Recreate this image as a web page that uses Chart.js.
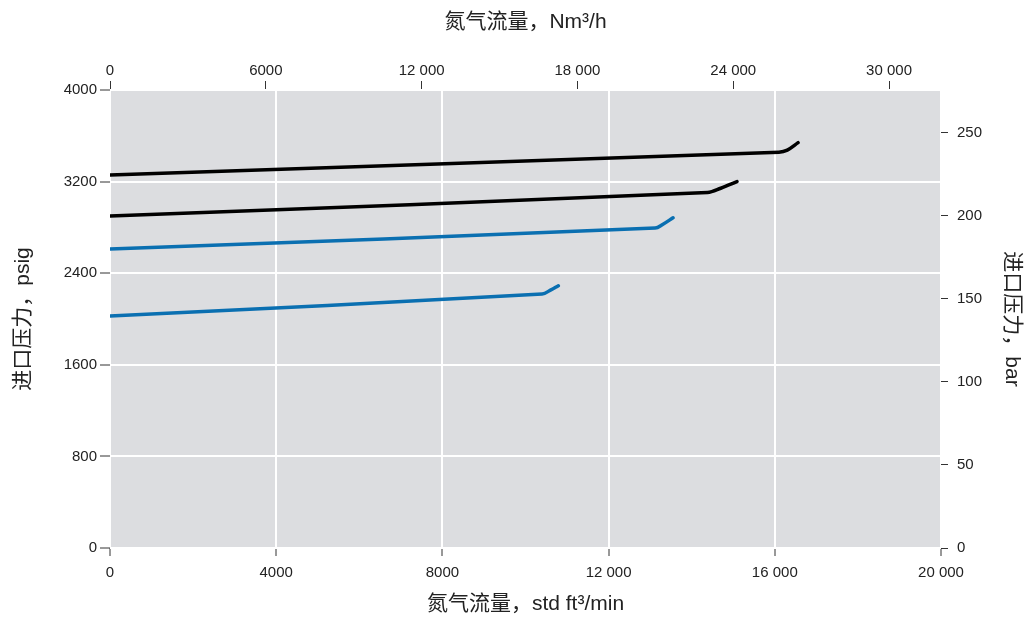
<!DOCTYPE html>
<html lang="zh">
<head>
    <meta charset="UTF-8">
    <title>进口压力 vs 氮气流量</title>
    <script src="https://cdn.jsdelivr.net/npm/chart.js"></script>
    <style>
        body { margin: 0; background: #fff; }
    </style>
</head>
<body>
    <canvas id="flowChart" width="1035" height="617"></canvas>

    <script>
        // flow in std ft3/min, pressure in psig
        const flowBlack1 = [0, 16100, 16300, 16560];
        const pressBlack1 = [3258, 3457, 3475, 3540];
        const flowBlack2 = [0, 14380, 14700, 15090];
        const pressBlack2 = [2900, 3105, 3142, 3200];
        const flowBlue1 = [0, 13120, 13300, 13550];
        const pressBlue1 = [2611, 2794, 2826, 2884];
        const flowBlue2 = [0, 10400, 10600, 10790];
        const pressBlue2 = [2026, 2218, 2252, 2290];

        const flowTicks = [0, 4000, 8000, 12000, 16000, 20000];
        const nm3Ticks = [0, 6000, 12000, 18000, 24000, 30000];
        const psigTicks = [0, 800, 1600, 2400, 3200, 4000];
        const barTicks = [0, 50, 100, 150, 200, 250];

        const nm3Max = 32000;      // 20000 scfm ~ 32000 Nm3/h
        const barMax = 275.8;      // 4000 psig ~ 275.8 bar

        const BLACK = '#000000';
        const BLUE = '#0a6fb1';
        const tickFont = { family: '"Liberation Sans", Arial, sans-serif', size: 15 };
        const titleFont = { family: '"Liberation Sans", "Noto Sans CJK SC", sans-serif', size: 21 };

        function fmt(v) {
            const s = String(v);
            return v >= 10000 ? s.slice(0, s.length - 3) + ' ' + s.slice(-3) : s;
        }

        function pts(xs, ys) {
            return xs.map((x, i) => ({ x: x, y: ys[i] }));
        }

        function series(xs, ys, color) {
            return {
                data: pts(xs, ys),
                borderColor: color,
                borderWidth: 3.5,
                borderCapStyle: 'round',
                borderJoinStyle: 'round',
                tension: 0.35,
                pointRadius: 0,
                fill: false
            };
        }

        const plotBg = {
            id: 'plotBg',
            beforeDraw(chart) {
                const a = chart.chartArea;
                const ctx = chart.ctx;
                ctx.save();
                ctx.fillStyle = '#dcdde0';
                ctx.fillRect(a.left, a.top, a.right - a.left, a.bottom - a.top);
                ctx.restore();
            }
        };

        new Chart(document.getElementById('flowChart').getContext('2d'), {
            type: 'line',
            data: {
                datasets: [
                    series(flowBlack1, pressBlack1, BLACK),
                    series(flowBlack2, pressBlack2, BLACK),
                    series(flowBlue1, pressBlue1, BLUE),
                    series(flowBlue2, pressBlue2, BLUE)
                ]
            },
            options: {
                responsive: false,
                animation: false,
                layout: { padding: 0 },
                plugins: { legend: { display: false }, tooltip: { enabled: false } },
                scales: {
                    x: {
                        type: 'linear',
                        position: 'bottom',
                        min: 0, max: 20000,
                        afterFit: s => { s.height = 69; },
                        afterBuildTicks: s => { s.ticks = flowTicks.map(v => ({ value: v })); },
                        border: { display: false },
                        grid: { color: '#ffffff', lineWidth: 2, tickColor: '#333', tickWidth: 1, tickLength: 8 },
                        ticks: { font: tickFont, color: '#222', padding: 8, maxRotation: 0, callback: v => fmt(v) },
                        title: { display: true, text: '氮气流量，std ft³/min', font: titleFont, color: '#222', padding: { top: 0, bottom: 0 } }
                    },
                    x2: {
                        type: 'linear',
                        position: 'top',
                        display: true,
                        min: 0, max: nm3Max,
                        afterFit: s => { s.height = 90; },
                        afterBuildTicks: s => { s.ticks = nm3Ticks.map(v => ({ value: v })); },
                        border: { display: false },
                        grid: { drawOnChartArea: false, tickColor: '#333', tickWidth: 1, tickLength: 9 },
                        ticks: { font: tickFont, color: '#222', padding: 1, maxRotation: 0, callback: v => fmt(v) },
                        title: { display: true, text: '氮气流量，Nm³/h', font: titleFont, color: '#222', padding: { top: 10, bottom: 0 } }
                    },
                    y: {
                        type: 'linear',
                        position: 'left',
                        min: 0, max: 4000,
                        afterFit: s => { s.width = 110; },
                        afterBuildTicks: s => { s.ticks = psigTicks.map(v => ({ value: v })); },
                        border: { display: false },
                        grid: { color: '#ffffff', lineWidth: 2, tickColor: '#333', tickWidth: 1, tickLength: 10 },
                        ticks: { font: tickFont, color: '#222', padding: 3, callback: v => fmt(v) },
                        title: { display: true, text: '进口压力，psig', font: titleFont, color: '#222', padding: { top: 11, bottom: 0 } }
                    },
                    y2: {
                        type: 'linear',
                        position: 'right',
                        display: true,
                        min: 0, max: barMax,
                        afterFit: s => { s.width = 94; },
                        afterBuildTicks: s => { s.ticks = barTicks.map(v => ({ value: v })); },
                        border: { display: false },
                        grid: { drawOnChartArea: false, tickColor: '#333', tickWidth: 1, tickLength: 7 },
                        ticks: { font: tickFont, color: '#222', padding: 9, callback: v => fmt(v) },
                        title: { display: true, text: '进口压力，bar', font: titleFont, color: '#222', padding: { top: 11, bottom: 0 } }
                    }
                }
            },
            plugins: [plotBg]
        });
    </script>
</body>
</html>
